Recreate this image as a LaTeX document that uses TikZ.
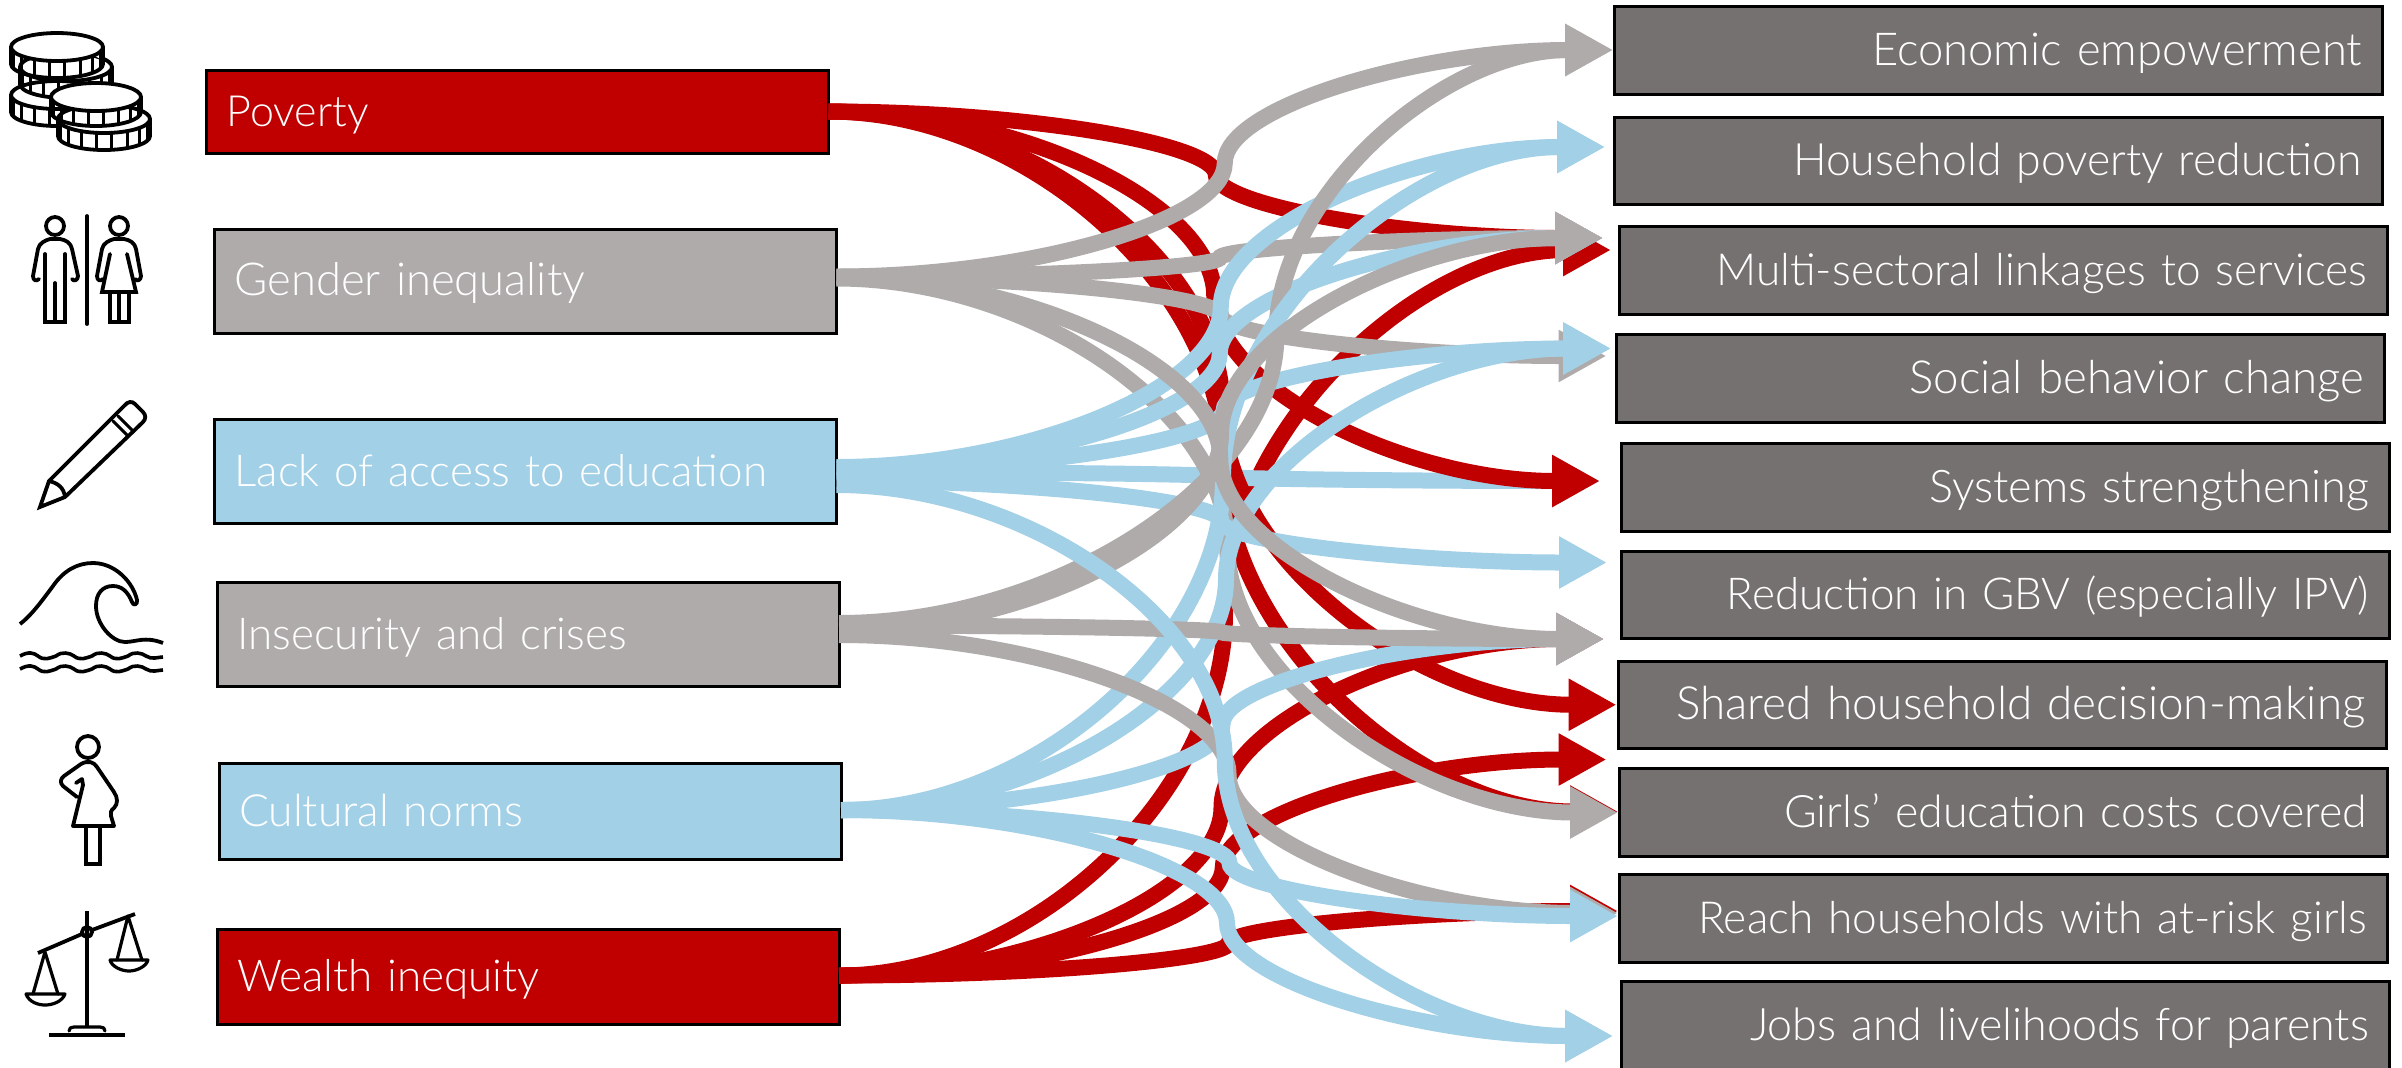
\documentclass[tikz,border=0pt]{standalone}
\usepackage{fontspec}
\setmainfont{Lato Light}
\usetikzlibrary{arrows.meta,calc}
\definecolor{cRed}{HTML}{C00000}
\definecolor{cGray}{HTML}{AFABAB}
\definecolor{cBlue}{HTML}{A2D0E6}
\definecolor{cDark}{HTML}{767171}
\newcommand{\fs}[1]{\fontsize{#1}{26}\selectfont}
\tikzset{
  srcbox/.style={draw=black,line width=1.5pt,outer sep=0pt,inner xsep=10pt,inner ysep=0pt,text width=291pt,align=left,text=white,text height=17pt,text depth=2.2pt,minimum height=#1},
  tgtbox/.style={draw=black,line width=1.5pt,fill=cDark,outer sep=0pt,inner xsep=10.25pt,inner ysep=0pt,text width=363.5pt,align=right,text=white,text height=17pt,text depth=2.2pt,minimum height=43.75pt},
  flowline/.style={line width=8pt,-{Triangle[length=24pt,width=24.5pt]}},
  icon/.style={draw=black,line width=1.9pt,line join=round,line cap=round},
}
% PowerPoint-style curved connector: two cubics meeting with a vertical tangent
\newcommand{\flow}[6][.5]{%
  \coordinate (fA) at ($(#3.east)+(0,#4)$);
  \coordinate (fB) at ($(#5.west)+(#6)$);
  \coordinate (fQ) at ($(fA)!#1!(fB)$);
  \coordinate (fM) at ($(fA)!.5!(fB)$);
  \coordinate (fP) at ($(fA)!.5*#1!(fB)$);
  \coordinate (fR) at ($(fQ)!.5!(fB)$);
  \coordinate (fH) at ($(fA)!.25!(fB)$);
  \coordinate (fI) at ($(fA)!.75!(fB)$);
  \draw[flowline,draw=#2] (fA) .. controls (fP |- fA) and (fQ |- fH) .. (fQ |- fM)
     .. controls (fQ |- fI) and (fR |- fB) .. (fB);
}
\newcommand{\coin}[5]{% cx cy rx ry h
  \fill[white] (#1-#3,#2) arc[start angle=180,end angle=360,x radius=#3,y radius=#4] -- ++(0,#5) arc[start angle=0,end angle=-180,x radius=#3,y radius=#4] -- cycle;
  \draw[icon,fill=white] (#1,#2) ellipse[x radius=#3,y radius=#4];
  \draw[icon] (#1-#3,#2) -- ++(0,#5) arc[start angle=180,end angle=360,x radius=#3,y radius=-#4] -- ++(0,-#5);
  \foreach \a in {-70,-50,-30,-10,10,30,50,70}{
    \draw[icon,line width=1.5pt] ({#1+#3*sin(\a)},{#2+#4*cos(\a)+1}) -- ++(0,#5-1);
  }
}
\newcommand{\ripple}[2]{% y, xstart
  \draw[icon,line cap=butt,line width=1.8pt] (#2,#1) .. controls (#2+9,#1-5) and (#2+14,#1-3) .. (#2+18,#1) .. controls (#2+24,#1+5) and (#2+30,#1+2) .. (#2+36,#1)
    .. controls (#2+42,#1-5) and (#2+50,#1-3) .. (#2+54,#1) .. controls (#2+60,#1+5) and (#2+66,#1+2) .. (#2+72,#1)
    .. controls (#2+78,#1-5) and (#2+86,#1-3) .. (#2+90,#1) .. controls (#2+96,#1+5) and (#2+102,#1+2) .. (#2+108,#1)
    .. controls (#2+114,#1-5) and (#2+122,#1-3) .. (#2+126,#1) .. controls (#2+132,#1+4) and (#2+138,#1+1) .. (#2+143,#1+1);
}
\begin{document}
\begin{tikzpicture}[x=.5pt,y=-.5pt]
\useasboundingbox (0,0) rectangle (2402,1067);
% sources
\node[srcbox=41.5pt,fill=cRed,font=\fs{21.5}]  (s1) at (517.5,112) {Poverty};
\node[srcbox=52pt,fill=cGray,font=\fs{22.7}] (s2) at (525.5,281) {Gender inequality};
\node[srcbox=52pt,fill=cBlue,font=\fs{22}] (s3) at (525.5,471.5) {Lack of access to education};
\node[srcbox=52pt,fill=cGray,font=\fs{22}] (s4) at (528,634.5) {Insecurity and crises};
\node[srcbox=48pt,fill=cBlue,font=\fs{22.2}]   (s5) at (530,811.5)   {Cultural norms};
\node[srcbox=47.75pt,fill=cRed,font=\fs{22}]  (s6) at (528,977) {Wealth inequity};
% targets
\node[tgtbox,font=\fs{22.7}] (t1)  at (1998.5,50.25)   {Economic empowerment};
\node[tgtbox,font=\fs{22.3}] (t2)  at (1998.5,160.75)  {Household poverty reduction};
\node[tgtbox,font=\fs{22.1}] (t3)  at (2003.5,270.25)  {Multi-sectoral linkages to services};
\node[tgtbox,font=\fs{22.8}] (t4)  at (2000.5,378.5)  {Social behavior change};
\node[tgtbox,font=\fs{22.5}] (t5)  at (2005.5,487.5)  {Systems strengthening};
\node[tgtbox,font=\fs{22}] (t6)  at (2005.5,594.75)  {Reduction in GBV (especially IPV)};
\node[tgtbox,font=\fs{22.9}] (t7)  at (2002,704.75)  {Shared household decision-making};
\node[tgtbox,font=\fs{22.35}] (t8)  at (2003.5,812.5){Girls’ education costs covered};
\node[tgtbox,font=\fs{22.1}] (t9)  at (2003.5,918.5)  {Reach households with at-risk girls};
\node[tgtbox,font=\fs{22.4}] (t10) at (2005.5,1025.25) {Jobs and livelihoods for parents};
% connectors, back to front
\flow{cRed}{s6}{-1.5}{t3}{-8.5,-20.25}
\flow{cRed}{s6}{-1.5}{t6}{-17.5,44.25}
\flow{cRed}{s6}{-1.5}{t7}{-11.5,54.75}
\flow{cRed}{s6}{-1.5}{t9}{-1.5,-7.5}
\flow{cRed}{s1}{-.5}{t3}{-16.5,-32.25}
\flow{cRed}{s1}{-.5}{t8}{-1.5,-1}
\flow{cBlue}{s3}{.5}{t5}{-21.5,-6.5}
\flow{cRed}{s1}{-.5}{t7}{-1.5,0}
\flow{cRed}{s1}{-.5}{t5}{-21.5,-6.5}
\flow{cGray}{s2}{-4.5}{t4}{-10,-22.5}
\flow{cGray}{s2}{-2.5}{t8}{-1.5,0}
\flow{cGray}{s2}{-3.5}{t3}{-16.5,-32.25}
\flow{cBlue}{s3}{-3}{t3}{-16.5,-32.25}
\flow{cBlue}{s3}{9}{t6}{-14.5,-32.25}
\flow{cBlue}{s3}{-1}{t4}{-5.5,-30}
\flow{cBlue}{s3}{-4.5}{t2}{-9.5,-13.75}
\flow{cGray}{s2}{-4.5}{t1}{-1.5,-.25}
\flow[.565]{cGray}{s4}{-11.5}{t1}{-1.5,-.25}
\flow{cBlue}{s5}{-1.5}{t2}{-9.5,-13.75}
\flow{cBlue}{s5}{-1.5}{t4}{-5.5,-30}
\flow{cBlue}{s5}{-1.5}{t6}{-17.5,44.25}
\flow{cGray}{s2}{-3.5}{t6}{-17.5,44.25}
\flow{cGray}{s4}{-9}{t6}{-17.5,44.25}
\flow{cGray}{s4}{-5}{t3}{-16.5,-32.25}
\flow{cGray}{s4}{.5}{t9}{-1.5,-5.5}
\flow{cBlue}{s5}{-1.5}{t9}{-1.5,-2.5}
\flow{cBlue}{s5}{-1.5}{t10}{-8.5,10.75}
\flow{cBlue}{s3}{13.5}{t10}{-8.5,10.75}
% icon: coins
\coin{57}{95}{46}{14}{17}
\coin{66}{67}{46}{14}{17}
\coin{57}{47}{46}{14}{17}
\coin{104}{119}{46}{14}{17}
\coin{96}{97}{45}{14}{15}
% icon: man and woman
\draw[icon,line cap=round] (87,216) -- (87,324);
\draw[icon] (55,226) circle[radius=9];
\draw[icon,line join=miter] (45,254) -- (45,322) -- (65,322) -- (65,254) (55,322) -- (55,283);
\draw[icon] (39,279) .. controls (36,282) and (33,280) .. (33,276) -- (38,249) .. controls (39,243) and (46,240) .. (50,239) -- (60,239) .. controls (66,240) and (71,243) .. (72,249) -- (78,276) .. controls (78,280) and (74,282) .. (72,279);
\draw[icon] (119,226) circle[radius=9];
\draw[icon,line join=miter] (110,254) -- (102,292) -- (136,292) -- (127,254) (110,292) -- (110,322) -- (129,322) -- (129,292) (119,292) -- (119,322);
\draw[icon] (103,279) .. controls (100,282) and (97,280) .. (97,276) -- (102,249) .. controls (103,243) and (110,240) .. (114,239) -- (124,239) .. controls (130,240) and (135,243) .. (136,249) -- (141,276) .. controls (141,280) and (137,282) .. (135,279);
% icon: pencil
\draw[icon,line join=miter] (49,481) -- (124,406) .. controls (128,401) and (132,401) .. (135,404) -- (143,412) .. controls (146,415) and (146,419) .. (143,422) -- (65,497) -- (40,507) -- cycle;
\draw[icon] (49,481) .. controls (58,483) and (64,488) .. (65,497);
\draw[icon,line width=1.5pt] (113,421) -- (127,435) (118,416) -- (132,430);
% icon: wave
\draw[icon,line cap=butt] (20,624) .. controls (32,615) and (44,598) .. (53,586) .. controls (64,570) and (78,563) .. (93,563) .. controls (115,563) and (133,582) .. (137,600) .. controls (138,605) and (133,606) .. (132,602) .. controls (128,592) and (122,586) .. (113,586) .. controls (102,586) and (96,594) .. (96,606) .. controls (96,624) and (112,642) .. (125,642) .. controls (136,642) and (145,636) .. (163,643);
\ripple{656}{20}
\ripple{669}{20}
% icon: pregnant woman
\draw[icon] (88,747) circle[radius=11];
\draw[icon] (77,797) -- (63,786) .. controls (60,783) and (60,779) .. (64,776) -- (81,764) .. controls (88,760) and (94,762) .. (97,767) -- (114,792) .. controls (118,798) and (118,804) .. (114,808) .. controls (111,810) and (110,813) .. (111,816) -- (114,826) -- (73,826) -- (83,785) -- (82,779) -- (76,783);
\draw[icon,line join=miter] (86,826) -- (86,864) -- (100,864) -- (100,826);
% icon: scales
\draw[icon,line cap=butt] (87,911) -- (87,1027) (49,1035) -- (125,1035);
\draw[icon,line width=1.6pt] (69,1031) .. controls (69,1028) and (71,1027) .. (74,1027) -- (100,1027) .. controls (103,1027) and (105,1028) .. (105,1031);
\draw[icon,line cap=butt] (38,953) -- (82,934) (92,930) -- (135,914);
\draw[icon] (87,932) circle[radius=5];
\draw[icon,line width=1.6pt] (45,952) -- (33,994) (45,952) -- (58,994);
\draw[icon,line width=1.6pt] (26,994) -- (65,994) .. controls (62,1002) and (52,1005) .. (45,1005) .. controls (38,1005) and (29,1002) .. (26,994);
\draw[icon,line width=1.6pt] (128,916) -- (117,960) (128,916) -- (142,960);
\draw[icon,line width=1.6pt] (110,960) -- (148,960) .. controls (146,967) and (136,971) .. (129,971) .. controls (122,971) and (112,967) .. (110,960);
\end{tikzpicture}
\end{document}
